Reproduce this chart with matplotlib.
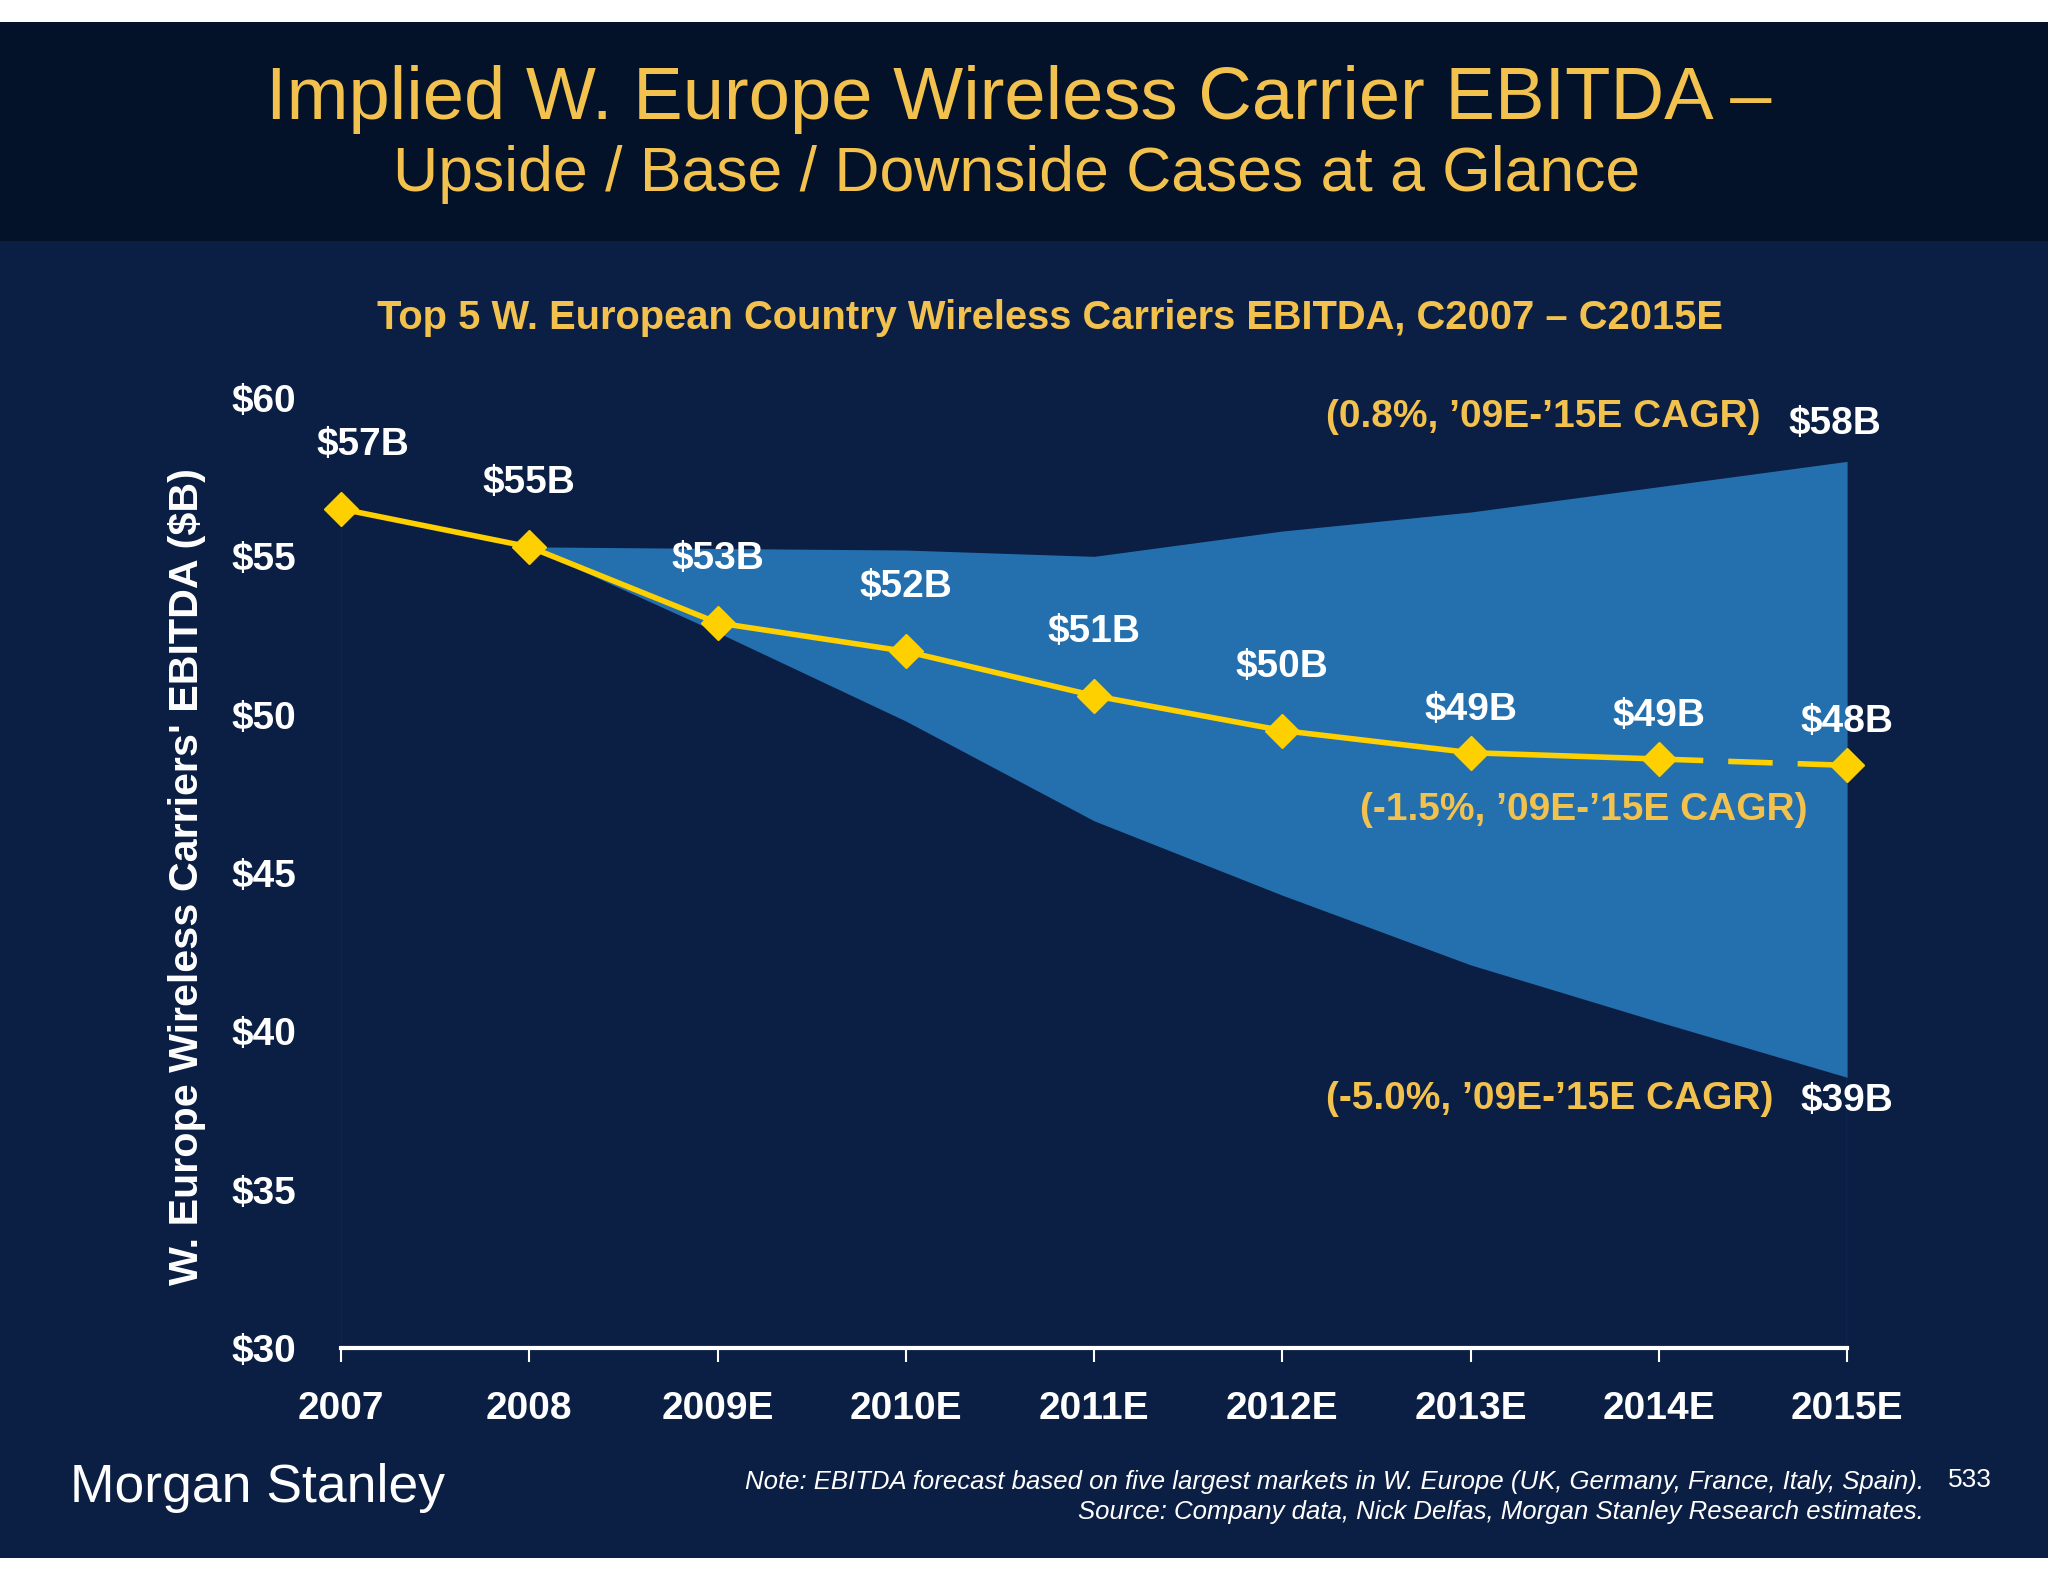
import matplotlib
matplotlib.use("Agg")
from matplotlib import pyplot as plt
from matplotlib.patches import Rectangle

plt.rcParams['font.family'] = ['Liberation Sans', 'DejaVu Sans']

# Datos
years = ['2007', '2008', '2009E', '2010E', '2011E', '2012E', '2013E', '2014E', '2015E']
base = [56.5, 55.3, 52.9, 52.0, 50.6, 49.5, 48.8, 48.6, 48.4]
base_labels = ['$57B', '$55B', '$53B', '$52B', '$51B', '$50B', '$49B', '$49B', '$48B']
upside = [55.3, 55.25, 55.2, 55.0, 55.8, 56.4, 57.2, 58.0]      # 2008 .. 2015E
downside = [55.3, 52.6, 49.8, 46.65, 44.3, 42.1, 40.3, 38.55]   # 2008 .. 2015E
y_ticks = [30, 35, 40, 45, 50, 55, 60]
y_tick_labels = ['$30', '$35', '$40', '$45', '$50', '$55', '$60']
upside_label = '$58B'
downside_label = '$39B'
cagr_up = '(0.8%, \u201909E-\u201915E CAGR)'
cagr_base = '(-1.5%, \u201909E-\u201915E CAGR)'
cagr_down = '(-5.0%, \u201909E-\u201915E CAGR)'

# Colores
header_bg = '#031229'
body_bg = '#0B1E44'
gold = '#F2C14E'
line_yellow = '#FFD000'
band_blue = '#2470AE'
white = '#FFFFFF'

x = list(range(len(years)))
x_band = x[1:]

fig = plt.figure(figsize=(20.48, 15.82), dpi=100)
fig.patch.set_facecolor('white')
fig.patches.append(Rectangle((0, 0.01517), 1, 0.8477 - 0.01517, transform=fig.transFigure,
                             facecolor=body_bg, edgecolor='none', zorder=-10))
fig.patches.append(Rectangle((0, 0.8477), 1, 0.9861 - 0.8477, transform=fig.transFigure,
                             facecolor=header_bg, edgecolor='none', zorder=-10))

# Titulos
fig.text(0.4975, 0.937, 'Implied W. Europe Wireless Carrier EBITDA \u2013',
         color=gold, fontsize=53.5, ha='center', va='center')
fig.text(0.4965, 0.890, 'Upside / Base / Downside Cases at a Glance',
         color=gold, fontsize=45, ha='center', va='center')
fig.text(0.5125, 0.799, 'Top 5 W. European Country Wireless Carriers EBITDA, C2007 \u2013 C2015E',
         color=gold, fontsize=28.7, fontweight='bold', ha='center', va='center')

ax = fig.add_axes([0.1665, 0.1479, 0.7354, 0.6005])
ax.set_facecolor('none')
ax.set_xlim(0, 8)
ax.set_ylim(30, 60)

# Rango upside / downside
ax.fill_between(x_band, downside, upside, color=band_blue, linewidth=0, zorder=1)
ax.vlines([x[0]], 30, base[0], color='#0E244C', linewidth=1.5, zorder=0)
ax.vlines([x[-1]], 30, downside[-1], color='#0E244C', linewidth=1.5, zorder=0)

# Caso base
ax.plot(x[:-1], base[:-1], color=line_yellow, linewidth=4, zorder=3, clip_on=False)
ax.plot(x[-2:], base[-2:], color=line_yellow, linewidth=4, zorder=3, clip_on=False,
        linestyle=(0, (8, 4.5)))
ax.plot(x, base, linestyle='none', marker='D', markersize=17, color=line_yellow,
        zorder=4, clip_on=False)

# Etiquetas de datos
offsets = [(16, 46), (0, 46), (0, 46), (0, 46), (0, 46), (0, 46), (0, 31), (0, 31), (0, 31)]
for xi, yi, lab, off in zip(x, base, base_labels, offsets):
    ax.annotate(lab, (xi, yi), xytext=off, textcoords='offset points', ha='center',
                va='center', color=white, fontsize=28, fontweight='bold', annotation_clip=False)
ax.annotate(upside_label, (x_band[-1], upside[-1]), xytext=(-9, 27), textcoords='offset points',
            ha='center', va='center', color=white, fontsize=28, fontweight='bold',
            annotation_clip=False)
ax.annotate(downside_label, (x_band[-1], downside[-1]), xytext=(0, -17), textcoords='offset points',
            ha='center', va='center', color=white, fontsize=28, fontweight='bold',
            annotation_clip=False)

ax.text(7.54, 59.4, cagr_up, color=gold, fontsize=28, fontweight='bold', ha='right', va='center')
ax.text(7.79, 46.98, cagr_base, color=gold, fontsize=28, fontweight='bold', ha='right', va='center')
ax.text(7.61, 37.85, cagr_down, color=gold, fontsize=28, fontweight='bold', ha='right', va='center')

# Ejes
for side in ['top', 'right', 'left']:
    ax.spines[side].set_visible(False)
ax.spines['bottom'].set_color(white)
ax.spines['bottom'].set_linewidth(3)
ax.set_xticks(x)
ax.set_xticklabels(years)
ax.set_yticks(y_ticks)
ax.set_yticklabels(y_tick_labels)
ax.tick_params(axis='x', direction='out', length=10, width=1.5, color=white, pad=21,
               labelsize=28, labelcolor=white)
ax.tick_params(axis='y', length=0, pad=32, labelsize=28, labelcolor=white)
for lab in ax.get_xticklabels() + ax.get_yticklabels():
    lab.set_fontweight('bold')

fig.text(0.0913, 0.4456, "W. Europe Wireless Carriers' EBITDA ($B)", color=white, fontsize=29.7,
         fontweight='bold', rotation=90, ha='center', va='center')

# Pie
fig.text(0.0342, 0.0506, 'Morgan Stanley', color=white, fontsize=38.5,
         ha='left', va='baseline')
fig.text(0.9395, 0.0632,
         'Note: EBITDA forecast based on five largest markets in W. Europe (UK, Germany, France, Italy, Spain).',
         color=white, fontsize=18.5, style='italic', ha='right', va='center')
fig.text(0.9395, 0.0442, 'Source: Company data, Nick Delfas, Morgan Stanley Research estimates.',
         color=white, fontsize=18.5, style='italic', ha='right', va='center')
fig.text(0.962, 0.0645, '533', color=white, fontsize=19, ha='center', va='center')

fig.savefig('out.png', dpi=100)
